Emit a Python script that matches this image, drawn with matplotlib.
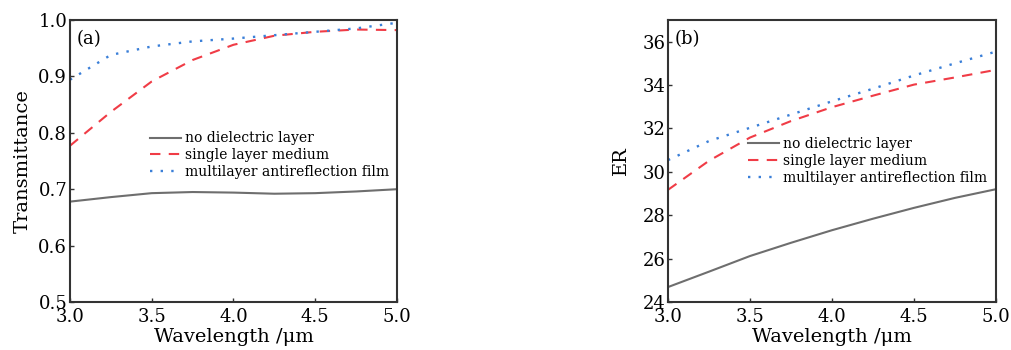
import matplotlib
matplotlib.use("Agg")
import matplotlib.pyplot as plt
import numpy as np

plt.rcParams['font.family'] = ['DejaVu Serif']
plt.rcParams['mathtext.fontset'] = 'dejavuserif'

wavelength = [3.0, 3.25, 3.5, 3.75, 4.0, 4.25, 4.5, 4.75, 5.0]

# (a) Transmittance
t_none = [0.678, 0.686, 0.693, 0.695, 0.694, 0.692, 0.693, 0.696, 0.700]
t_single = [0.777, 0.837, 0.891, 0.929, 0.956, 0.972, 0.979, 0.983, 0.982]
t_multi = [0.894, 0.938, 0.953, 0.962, 0.967, 0.973, 0.979, 0.985, 0.995]

# (b) ER
er_none = [24.69, 25.40, 26.12, 26.73, 27.31, 27.84, 28.34, 28.80, 29.20]
er_single = [29.17, 30.51, 31.58, 32.34, 32.98, 33.51, 34.02, 34.35, 34.70]
er_multi = [30.54, 31.42, 32.03, 32.64, 33.25, 33.83, 34.44, 35.00, 35.54]

labels = ["no dielectric layer", "single layer medium", "multilayer antireflection film"]
xticks = [3.0, 3.5, 4.0, 4.5, 5.0]

gray = "#6e6e6e"
red = "#f03c46"
blue = "#3a7fd8"
spine_c = "#333333"

fig = plt.figure(figsize=(10.11, 3.5), dpi=100)
axA = fig.add_axes([0.0692, 0.137, 0.3235, 0.806])
axB = fig.add_axes([0.6607, 0.137, 0.3244, 0.806])


def style(ax, yticks, ylim, fmt):
    ax.set_xlim(3.0, 5.0)
    ax.set_ylim(*ylim)
    ax.set_xticks(xticks)
    ax.set_xticklabels([f"{v:.1f}" for v in xticks])
    ax.set_yticks(yticks)
    ax.set_yticklabels([fmt.format(v) for v in yticks])
    ax.tick_params(direction='in', length=3, width=1.0, labelsize=13,
                   color=spine_c, top=False, right=False)
    ax.tick_params(axis='x', pad=4)
    ax.tick_params(axis='y', pad=2)
    for s in ax.spines.values():
        s.set_linewidth(1.5)
        s.set_color(spine_c)
    ax.set_xlabel("Wavelength /\u03bcm", fontsize=14, labelpad=2)


for ax, a, b, c in [(axA, t_none, t_single, t_multi), (axB, er_none, er_single, er_multi)]:
    ax.plot(wavelength, a, color=gray, lw=1.5, label=labels[0])
    ax.plot(wavelength, b, color=red, lw=1.5, dashes=(5, 4), label=labels[1])
    ax.plot(wavelength, c, color=blue, lw=1.7, dashes=(1, 3.5), label=labels[2])

style(axA, [0.5, 0.6, 0.7, 0.8, 0.9, 1.0], (0.5, 1.0), "{:.1f}")
style(axB, [24, 26, 28, 30, 32, 34, 36], (24, 37), "{:d}")
axA.set_ylabel("Transmittance", fontsize=14, labelpad=5)
axB.set_ylabel("ER", fontsize=14, labelpad=9)

axA.text(0.02, 0.965, "(a)", transform=axA.transAxes, fontsize=13, va='top', ha='left')
axB.text(0.02, 0.965, "(b)", transform=axB.transAxes, fontsize=13, va='top', ha='left')

for ax, y in [(axA, 0.605), (axB, 0.585)]:
    ax.legend(loc='upper left', bbox_to_anchor=(0.245, y), frameon=False, fontsize=10,
              handlelength=2.2, handletextpad=0.3, labelspacing=0.2, borderpad=0,
              borderaxespad=0)

fig.savefig("out.png", dpi=100)
